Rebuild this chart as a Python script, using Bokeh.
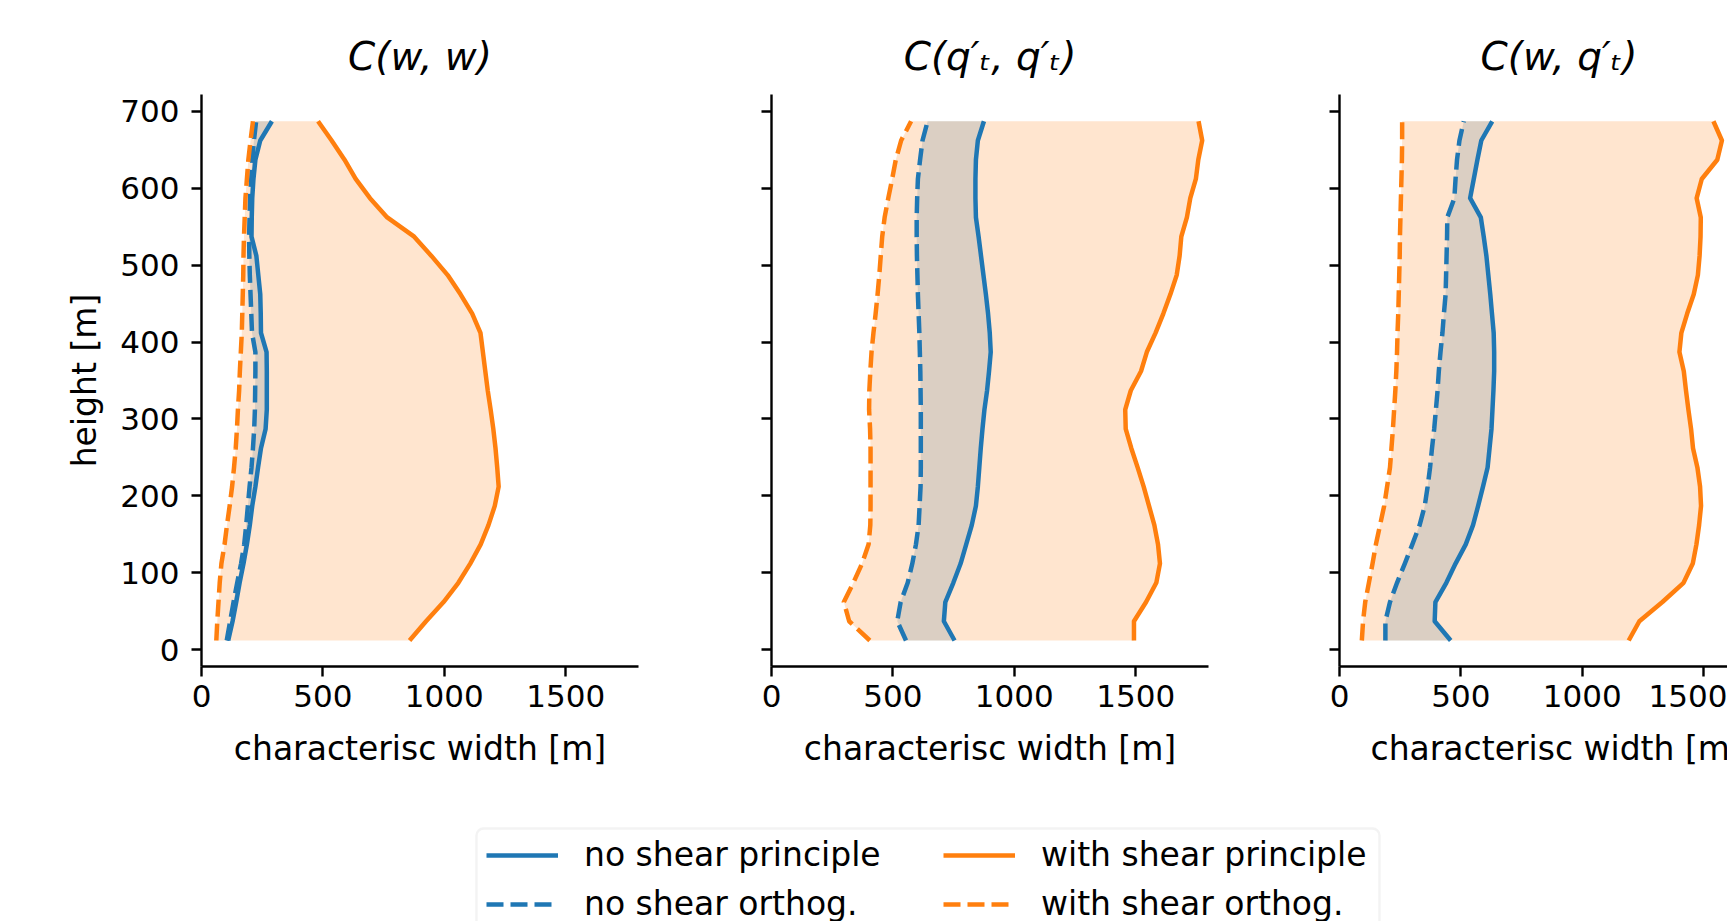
from bokeh.plotting import figure
from bokeh.layouts import row, column
from bokeh.models import Range1d, FixedTicker, Title, Legend, LegendItem, BoxAnnotation
from bokeh.embed import file_html
from bokeh.resources import INLINE

# ---------------- data ----------------
heights = [12, 37, 62, 87, 112, 137, 162, 187, 212, 237, 262, 287, 312, 337,
           362, 387, 412, 437, 462, 487, 512, 537, 562, 587, 612, 637, 662, 687]

titles = ["C(w, w)", "C(q\u2032\u209c, q\u2032\u209c)", "C(w, q\u2032\u209c)"]
x_ticks = [0, 500, 1000, 1500]
y_ticks = [0, 100, 200, 300, 400, 500, 600, 700]
legend_labels = ["no shear principle", "no shear orthog.",
                 "with shear principle", "with shear orthog."]

# panel 1 : C(w, w)
ww_noshear_principle = [110, 128, 143, 157, 173, 187, 199, 209, 222, 233, 245, 264, 269, 269,
                        269, 268, 245, 244, 242, 234, 226, 206, 207, 209, 214, 222, 242, 290]
ww_noshear_orthog = [104, 118, 132, 147, 163, 176, 184, 191, 198, 206, 212, 217, 220, 221,
                     222, 222, 208, 205, 202, 199, 197, 196, 198, 200, 205, 209, 216, 225]
ww_shear_principle = [857, 925, 997, 1058, 1107, 1150, 1182, 1208, 1224, 1218, 1211, 1202, 1191, 1179,
                      1169, 1159, 1149, 1115, 1067, 1014, 947, 876, 765, 694, 635, 589, 536, 480]
ww_shear_orthog = [61, 65, 70, 75, 82, 95, 105, 116, 126, 134, 141, 146, 150, 155,
                   158, 162, 166, 168, 170, 172, 173, 175, 178, 181, 187, 193, 202, 212]

# panel 2 : C(q't, q't)
qq_noshear_principle = [754, 710, 716, 749, 779, 802, 825, 842, 850, 856, 862, 869, 877, 888,
                        896, 903, 899, 892, 883, 873, 863, 853, 842, 840, 840, 842, 850, 875]
qq_noshear_orthog = [554, 518, 532, 561, 580, 595, 606, 610, 614, 615, 615, 615, 615, 614,
                     613, 611, 609, 606, 603, 601, 599, 598, 598, 600, 603, 612, 622, 643]
qq_shear_principle = [1493, 1493, 1543, 1585, 1600, 1592, 1577, 1555, 1533, 1508, 1482, 1459, 1457, 1480,
                      1522, 1546, 1582, 1614, 1643, 1669, 1681, 1688, 1711, 1725, 1748, 1758, 1774, 1759]
qq_shear_orthog = [405, 320, 298, 337, 373, 400, 407, 408, 408, 408, 408, 406, 402, 403,
                   407, 412, 420, 429, 437, 444, 450, 456, 466, 481, 497, 512, 534, 575]

# panel 3 : C(w, q't)
wq_noshear_principle = [458, 392, 395, 440, 478, 520, 550, 571, 591, 610, 618, 626, 630, 634,
                        637, 637, 635, 628, 621, 613, 605, 594, 582, 538, 553, 568, 584, 629]
wq_noshear_orthog = [189, 189, 208, 237, 269, 300, 330, 351, 363, 373, 381, 390, 397, 404,
                     409, 416, 424, 430, 437, 439, 441, 443, 444, 473, 478, 484, 494, 512]
wq_shear_principle = [1191, 1235, 1330, 1417, 1455, 1470, 1481, 1489, 1485, 1474, 1456, 1448, 1437, 1427,
                      1418, 1400, 1408, 1432, 1459, 1476, 1483, 1487, 1488, 1471, 1492, 1556, 1575, 1540]
wq_shear_orthog = [92, 97, 106, 121, 136, 150, 167, 184, 196, 208, 214, 220, 225, 230,
                   234, 237, 239, 242, 244, 246, 248, 249, 251, 253, 255, 257, 258, 258]

# ---------------- style ----------------
BLUE = "#1f77b4"
ORANGE = "#ff7f0e"
FONT = "DejaVu Sans"
TICK_FS = "31px"
LABEL_FS = "33px"
LW = 4.5
DASH = "17 7"
XLABEL = "characterisc width [m]"


def make_panel(title, nsp, nso, wsp, wso, width, bl, br, x_end, first,
               title_align="center", title_offset=0, xl_align="center", xl_offset=0):
    p = figure(width=width, height=788, output_backend="svg", toolbar_location=None,
               x_range=Range1d(0, x_end), y_range=Range1d(-21.8, 721.8),
               min_border_left=bl, min_border_right=br,
               min_border_top=94, min_border_bottom=122)
    p.outline_line_color = None
    p.grid.visible = False
    p.harea(y=heights, x1=nso, x2=nsp, fill_color=BLUE, fill_alpha=0.2)
    p.harea(y=heights, x1=wso, x2=wsp, fill_color=ORANGE, fill_alpha=0.2)
    p.line(nsp, heights, line_color=BLUE, line_width=LW, line_join="round")
    p.line(nso, heights, line_color=BLUE, line_width=LW, line_dash=DASH, line_join="round")
    p.line(wsp, heights, line_color=ORANGE, line_width=LW, line_join="round")
    p.line(wso, heights, line_color=ORANGE, line_width=LW, line_dash=DASH, line_join="round")

    for ax in (p.xaxis[0], p.yaxis[0]):
        ax.axis_line_width = 2.4
        ax.axis_line_color = "black"
        ax.major_tick_line_width = 2.4
        ax.major_tick_line_color = "black"
        ax.major_tick_out = 10
        ax.major_tick_in = 0
        ax.minor_tick_out = 0
        ax.minor_tick_in = 0
        ax.major_label_text_font = FONT
        ax.major_label_text_font_size = TICK_FS
        ax.major_label_text_color = "black"
    p.xaxis.ticker = FixedTicker(ticks=x_ticks)
    p.yaxis.ticker = FixedTicker(ticks=y_ticks)
    p.xaxis.major_label_standoff = 8
    p.yaxis.major_label_standoff = 12
    if first:
        p.yaxis.axis_label = "height [m]"
        p.yaxis.axis_label_text_font = FONT
        p.yaxis.axis_label_text_font_size = LABEL_FS
        p.yaxis.axis_label_text_font_style = "normal"
        p.yaxis.axis_label_text_color = "black"
        p.yaxis.axis_label_standoff = 13
    else:
        p.yaxis.major_label_overrides = {t: "" for t in y_ticks}

    p.title = Title(text=title, align=title_align, offset=title_offset,
                    text_font=FONT, text_font_size="39px", text_font_style="italic",
                    text_color="black", standoff=31)
    p.add_layout(Title(text=XLABEL, align=xl_align, offset=xl_offset,
                       text_font=FONT, text_font_size=LABEL_FS, text_font_style="normal",
                       text_color="black", standoff=34), "below")
    return p


p1 = make_panel(titles[0], ww_noshear_principle, ww_noshear_orthog,
                ww_shear_principle, ww_shear_orthog, 704, 201, 66, 1800, True)
p2 = make_panel(titles[1], qq_noshear_principle, qq_noshear_orthog,
                qq_shear_principle, qq_shear_orthog, 569, 67, 65, 1800, False)
p3 = make_panel(titles[2], wq_noshear_principle, wq_noshear_orthog,
                wq_shear_principle, wq_shear_orthog, 454, 66, 0, 1598, False,
                title_align="left", title_offset=141, xl_align="left", xl_offset=31)

# ---------------- legend ----------------
# frame of this figure: canvas x 439..1418, full height; 1 data unit = 1 px
leg = figure(width=1727, height=133, output_backend="svg", toolbar_location=None,
             x_range=Range1d(0, 979), y_range=Range1d(0, 133),
             x_axis_type=None, y_axis_type=None,
             min_border_left=439, min_border_right=309, min_border_top=0, min_border_bottom=0)
leg.outline_line_color = None
leg.grid.visible = False
leg.add_layout(BoxAnnotation(left=37, right=940, top=93, bottom=-30,
                             fill_color="white", fill_alpha=1.0,
                             line_color="#d6d6d6", line_width=2.4, border_radius=7))
r_np = leg.line([-5, -4], [-5, -4], line_color=BLUE, line_width=LW)
r_no = leg.line([-5, -4], [-5, -4], line_color=BLUE, line_width=LW, line_dash=DASH)
r_wp = leg.line([-5, -4], [-5, -4], line_color=ORANGE, line_width=LW)
r_wo = leg.line([-5, -4], [-5, -4], line_color=ORANGE, line_width=LW, line_dash=DASH)

common = dict(orientation="vertical", margin=47, padding=6, spacing=10,
              label_standoff=26, glyph_width=72, glyph_height=36, label_height=36,
              label_text_font=FONT, label_text_font_size=LABEL_FS,
              label_text_color="black", border_line_color=None,
              background_fill_alpha=0.0)
legend_a = Legend(items=[LegendItem(label=legend_labels[0], renderers=[r_np]),
                         LegendItem(label=legend_labels[1], renderers=[r_no])],
                  location="top_left", label_width=300, **common)
legend_b = Legend(items=[LegendItem(label=legend_labels[2], renderers=[r_wp]),
                         LegendItem(label=legend_labels[3], renderers=[r_wo])],
                  location="top_right", label_width=330, **common)
leg.add_layout(legend_a)
leg.add_layout(legend_b)

layout = column(row(p1, p2, p3), leg)
open("out.html", "w").write(file_html(layout, INLINE))
